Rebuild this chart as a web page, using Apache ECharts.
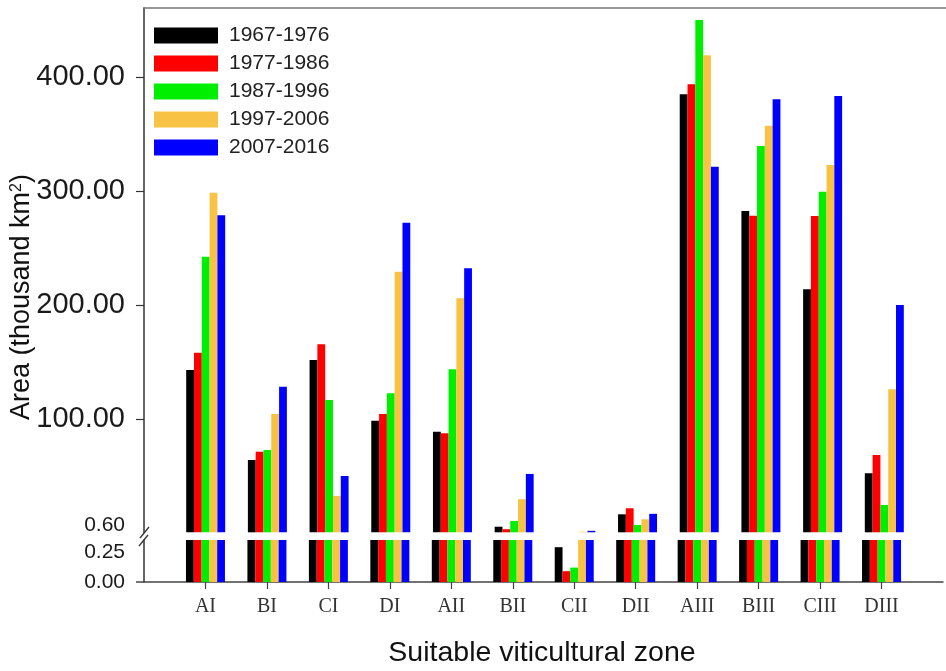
<!DOCTYPE html>
<html>
<head>
<meta charset="utf-8">
<script src="https://cdn.jsdelivr.net/npm/echarts@6/dist/echarts.min.js"></script>
<style>html,body{margin:0;padding:0;background:#fff}#c{width:946px;height:671px}</style>
</head>
<body>
<div id="c"></div>
<script>
// ---- data ----
const categories = ['AI','BI','CI','DI','AII','BII','CII','DII','AIII','BIII','CIII','DIII'];
const seriesNames = ['1967-1976','1977-1986','1987-1996','1997-2006','2007-2016'];
const p1967 = [143.0, 64.0, 151.8, 98.5, 88.9, 5.5, 0.29, 16.4, 384.8, 282.5, 213.8, 52.4];
const p1977 = [158.2, 71.3, 165.5, 104.4, 87.5, 3.3, 0.09, 21.7, 393.6, 278.3, 278.1, 68.4];
const p1987 = [242.4, 72.8, 116.7, 122.5, 143.6, 10.5, 0.12, 7.0, 450.0, 339.5, 299.4, 24.6];
const p1997 = [298.5, 104.4, 32.5, 229.2, 205.9, 29.6, 1.1, 12.0, 419.0, 357.3, 322.8, 126.1];
const p2007 = [278.7, 128.3, 50.0, 272.2, 232.2, 51.8, 1.9, 16.8, 321.3, 380.4, 383.3, 200.0];
const upperTicks = [0.6, 100, 200, 300, 400];
const lowerTicks = [0, 0.25];

// ---- styling ----
const colors = ['#000000', '#ff0000', '#00ee00', '#f8c244', '#0000ff'];
const allSeries = [p1967, p1977, p1987, p1997, p2007];
const axisCats = [''].concat(categories, ['']);
const pad = arr => ['-'].concat(arr, ['-']);
const sans = 'Liberation Sans';
const serif = 'Liberation Serif';
const gridLeft = 144, gridWidth = 812.5;

const series = [];
[0, 1].forEach(g => {
  allSeries.forEach((arr, i) => {
    series.push({
      type: 'bar', name: seriesNames[i],
      xAxisIndex: g, yAxisIndex: g,
      data: pad(arr), barWidth: 7.8, barGap: '0%',
      clip: true, itemStyle: { color: colors[i] },
      animation: false
    });
  });
});

const chart = echarts.init(document.getElementById('c'), null, { renderer: 'canvas' });
chart.setOption({
  animation: false,
  backgroundColor: '#ffffff',
  legend: {
    data: seriesNames, orient: 'vertical', left: 149, top: 20, padding: 5,
    itemWidth: 64, itemHeight: 16, itemGap: 7, icon: 'rect',
    textStyle: { fontFamily: sans, fontSize: 21, lineHeight: 20, color: '#222', padding: [0, 0, 0, 6] }
  },
  grid: [
    { left: gridLeft, width: gridWidth, top: 8, bottom: 671 - 532.3 },
    { left: gridLeft, width: gridWidth, top: 540, bottom: 89 }
  ],
  xAxis: [
    { type: 'category', gridIndex: 0, data: axisCats, boundaryGap: false, position: 'top',
      axisLine: { show: true, lineStyle: { color: '#777', width: 1.5 } },
      axisTick: { show: false }, axisLabel: { show: false }, splitLine: { show: false } },
    { type: 'category', gridIndex: 1, data: axisCats, boundaryGap: false, position: 'bottom',
      axisLine: { show: true, lineStyle: { color: '#444', width: 1.5 } },
      axisTick: { show: true, length: 7, alignWithLabel: true, lineStyle: { color: '#444', width: 1.2 },
        interval: (idx, v) => v !== '' },
      axisLabel: { show: true, interval: 0, margin: 15, fontFamily: serif, fontSize: 20, color: '#333' },
      name: 'Suitable viticultural zone', nameLocation: 'middle', nameGap: 57,
      nameTextStyle: { fontFamily: sans, fontSize: 28.5, color: '#111', padding: [0, 3, 0, 0] },
      splitLine: { show: false } }
  ],
  yAxis: [
    { type: 'value', gridIndex: 0, min: 0.6, max: 460.5,
      axisLine: { show: true, lineStyle: { color: '#333', width: 1.5 } },
      axisTick: { show: true, inside: false, length: 8, customValues: [100, 200, 300, 400],
        lineStyle: { color: '#333', width: 1.2 } },
      axisLabel: { show: true, customValues: upperTicks, margin: 19,
        fontFamily: sans, fontSize: 29, color: '#1a1a1a',
        formatter: v => v < 1 ? '{u|' + v.toFixed(2) + '}' : '{b|' + v.toFixed(2) + '}',
        rich: {
          u: { fontFamily: sans, fontSize: 21, color: '#1a1a1a', padding: [0, 0, 14, 0] },
          b: { fontFamily: sans, fontSize: 29, color: '#1a1a1a' }
        } },
      splitLine: { show: false } },
    { type: 'value', gridIndex: 1, min: 0, max: 0.35,
      axisLine: { show: true, lineStyle: { color: '#333', width: 1.5 } },
      axisTick: { show: true, inside: false, length: 8, customValues: [0],
        lineStyle: { color: '#444', width: 1.5 } },
      axisLabel: { show: true, customValues: lowerTicks, margin: 19,
        fontFamily: sans, fontSize: 21, color: '#1a1a1a', formatter: v => v.toFixed(2) },
      splitLine: { show: false } }
  ],
  graphic: [
    { type: 'line', shape: { x1: 140, y1: 538, x2: 149, y2: 527 }, style: { stroke: '#333', lineWidth: 1.3 } },
    { type: 'line', shape: { x1: 139, y1: 546, x2: 148, y2: 535 }, style: { stroke: '#333', lineWidth: 1.3 } },
    { type: 'text', x: 22, y: 297, rotation: Math.PI / 2,
      style: { text: '{a|Area (thousand km}{s|2}{a|)}', align: 'center', verticalAlign: 'middle',
        rich: { a: { fontFamily: sans, fontSize: 27, fill: '#111' },
                s: { fontFamily: sans, fontSize: 16, fill: '#111', verticalAlign: 'top', padding: [0, 0, 10, 0] } } } }
  ],
  series: series
});
</script>
</body>
</html>
